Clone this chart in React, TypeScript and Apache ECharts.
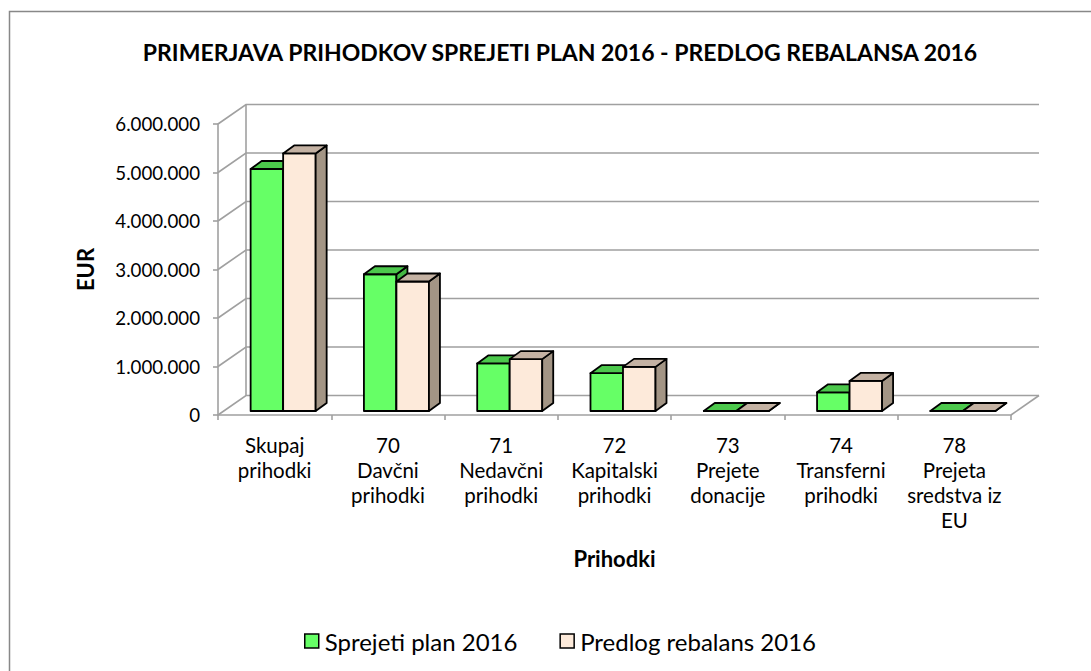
import React, { useEffect, useRef } from "react";
import * as echarts from "echarts";

const categories = [
  "Skupaj\nprihodki",
  "70\nDavčni\nprihodki",
  "71\nNedavčni\nprihodki",
  "72\nKapitalski\nprihodki",
  "73\nPrejete\ndonacije",
  "74\nTransferni\nprihodki",
  "78\nPrejeta\nsredstva iz\nEU",
];
const planValues = [4990000, 2820000, 980000, 780000, 0, 385000, 0];
const rebalansValues = [5310000, 2670000, 1070000, 910000, 0, 620000, 0];
const seriesNames = ["Sprejeti plan 2016", "Predlog rebalans 2016"];
const yTicks = [0, 1000000, 2000000, 3000000, 4000000, 5000000, 6000000];

const FONT = "Lato, 'Liberation Sans', sans-serif";
const GRID_COLOR = "#A0A0A0";
const WALL_DX = 28;
const WALL_DY = -19.5;
const BAR_OFF_X = 8.5;
const BAR_OFF_Y = -4;
const BAR_DX = 11;
const BAR_DY = -8;
const BAR_FRAC = 0.287;

const faceColors = [
  { front: "#66FF66", top: "#4CC84C", side: "#44B844" },
  { front: "#FDEADA", top: "#C4B2A3", side: "#A39585" },
];

const fmt = (v: number) => String(v).replace(/\B(?=(\d{3})+(?!\d))/g, ".");

function makeBarSeries(k: number, values: number[]) {
  const c = faceColors[k];
  return {
    type: "custom",
    name: seriesNames[k],
    z: 5 + k,
    itemStyle: { color: c.front, borderColor: "#000", borderWidth: 1.5 },
    data: values.map((v, i) => [i, v]),
    encode: { x: 0, y: 1 },
    renderItem: (params: any, api: any) => {
      const idx = api.value(0);
      const v = api.value(1);
      const base = api.coord([idx, 0]);
      const top = api.coord([idx, v]);
      const band = api.size([1, 0])[0];
      const w = band * BAR_FRAC;
      const x0 = base[0] + BAR_OFF_X + (k === 0 ? -w : 0);
      const x1 = x0 + w;
      const yb = base[1] + BAR_OFF_Y;
      const yt = top[1] + BAR_OFF_Y;
      const stroke = { stroke: "#000", lineWidth: 1.8, lineJoin: "round" };
      return {
        type: "group",
        children: [
          {
            type: "polygon",
            shape: { points: [[x0, yt], [x1, yt], [x1, yb], [x0, yb]] },
            style: { fill: c.front, ...stroke },
          },
          {
            type: "polygon",
            shape: {
              points: [
                [x1, yt],
                [x1 + BAR_DX, yt + BAR_DY],
                [x1 + BAR_DX, yb + BAR_DY],
                [x1, yb],
              ],
            },
            style: { fill: c.side, ...stroke },
          },
          {
            type: "polygon",
            shape: {
              points: [
                [x0, yt],
                [x0 + BAR_DX, yt + BAR_DY],
                [x1 + BAR_DX, yt + BAR_DY],
                [x1, yt],
              ],
            },
            style: { fill: c.top, ...stroke },
          },
        ],
      };
    },
  };
}

const wallSeries = {
  type: "custom",
  name: "walls",
  silent: true,
  z: 1,
  data: yTicks.map((v) => [0, v]),
  encode: { x: 0, y: 1 },
  renderItem: (params: any, api: any) => {
    const cs = params.coordSys;
    const L = cs.x;
    const R = cs.x + cs.width;
    const y = api.coord([0, api.value(1)])[1];
    const line = { stroke: GRID_COLOR, lineWidth: 1.6, fill: null };
    const children: any[] = [
      {
        type: "polyline",
        shape: { points: [[L, y], [L + WALL_DX, y + WALL_DY], [R + WALL_DX, y + WALL_DY]] },
        style: line,
      },
    ];
    if (api.value(1) === 0) {
      children.push({
        type: "line",
        shape: { x1: L + WALL_DX, y1: cs.y + WALL_DY, x2: L + WALL_DX, y2: cs.y + cs.height + WALL_DY },
        style: line,
      });
      children.push({
        type: "line",
        shape: { x1: R, y1: y, x2: R + WALL_DX, y2: y + WALL_DY },
        style: line,
      });
    }
    return { type: "group", children };
  },
};

export default function App() {
  const ref = useRef<HTMLDivElement>(null);
  useEffect(() => {
    document.body.style.margin = "0";
    const chart = echarts.init(ref.current!, null, { renderer: "svg" });
    chart.setOption({
      animation: false,
      backgroundColor: "#fff",
      textStyle: { fontFamily: FONT },
      title: {
        text: "PRIMERJAVA PRIHODKOV SPREJETI PLAN 2016 - PREDLOG REBALANSA 2016",
        left: 555,
        top: 35,
        textAlign: "center",
        textStyle: { fontFamily: FONT, fontSize: 23, fontWeight: "bold", color: "#000" },
      },
      graphic: [
        {
          type: "rect",
          shape: { x: 9.5, y: 11.5, width: 1100, height: 700 },
          style: { fill: null, stroke: "#888", lineWidth: 1.5 },
          silent: true,
        },
      ],
      legend: {
        left: 299,
        top: 624,
        itemWidth: 14,
        itemHeight: 14,
        itemGap: 42,
        icon: "rect",
        data: seriesNames,
        itemStyle: { borderColor: "#000", borderWidth: 1.5 },
        textStyle: { fontFamily: FONT, fontSize: 24, color: "#000", padding: [0, 0, 0, 1] },
      },
      grid: { left: 218, top: 124, width: 793, height: 291 },
      xAxis: {
        type: "category",
        data: categories,
        name: "Prihodki",
        nameLocation: "middle",
        nameGap: 132,
        nameTextStyle: { fontFamily: FONT, fontSize: 22, fontWeight: "bold", color: "#000" },
        axisLine: { show: true, lineStyle: { color: GRID_COLOR, width: 1.6 } },
        axisTick: { show: true, length: 5, lineStyle: { color: GRID_COLOR, width: 1.6 } },
        axisLabel: {
          interval: 0,
          margin: 17,
          fontFamily: FONT,
          fontSize: 20.5,
          lineHeight: 25,
          color: "#000",
          align: "center",
        },
        splitLine: { show: false },
      },
      yAxis: {
        type: "value",
        min: 0,
        max: 6000000,
        interval: 1000000,
        name: "EUR",
        nameLocation: "middle",
        nameRotate: 90,
        nameGap: 122,
        nameTextStyle: { fontFamily: FONT, fontSize: 22, fontWeight: "bold", color: "#000" },
        axisLine: { show: true, lineStyle: { color: GRID_COLOR, width: 1.6 } },
        axisTick: { show: true, length: 5, lineStyle: { color: GRID_COLOR, width: 1.6 } },
        axisLabel: {
          margin: 18,
          fontFamily: FONT,
          fontSize: 18.7,
          color: "#000",
          formatter: (v: number) => fmt(v),
        },
        splitLine: { show: false },
      },
      series: [wallSeries, makeBarSeries(0, planValues), makeBarSeries(1, rebalansValues)],
    });
    return () => chart.dispose();
  }, []);
  return <div ref={ref} style={{ width: 1091, height: 671 }} />;
}
